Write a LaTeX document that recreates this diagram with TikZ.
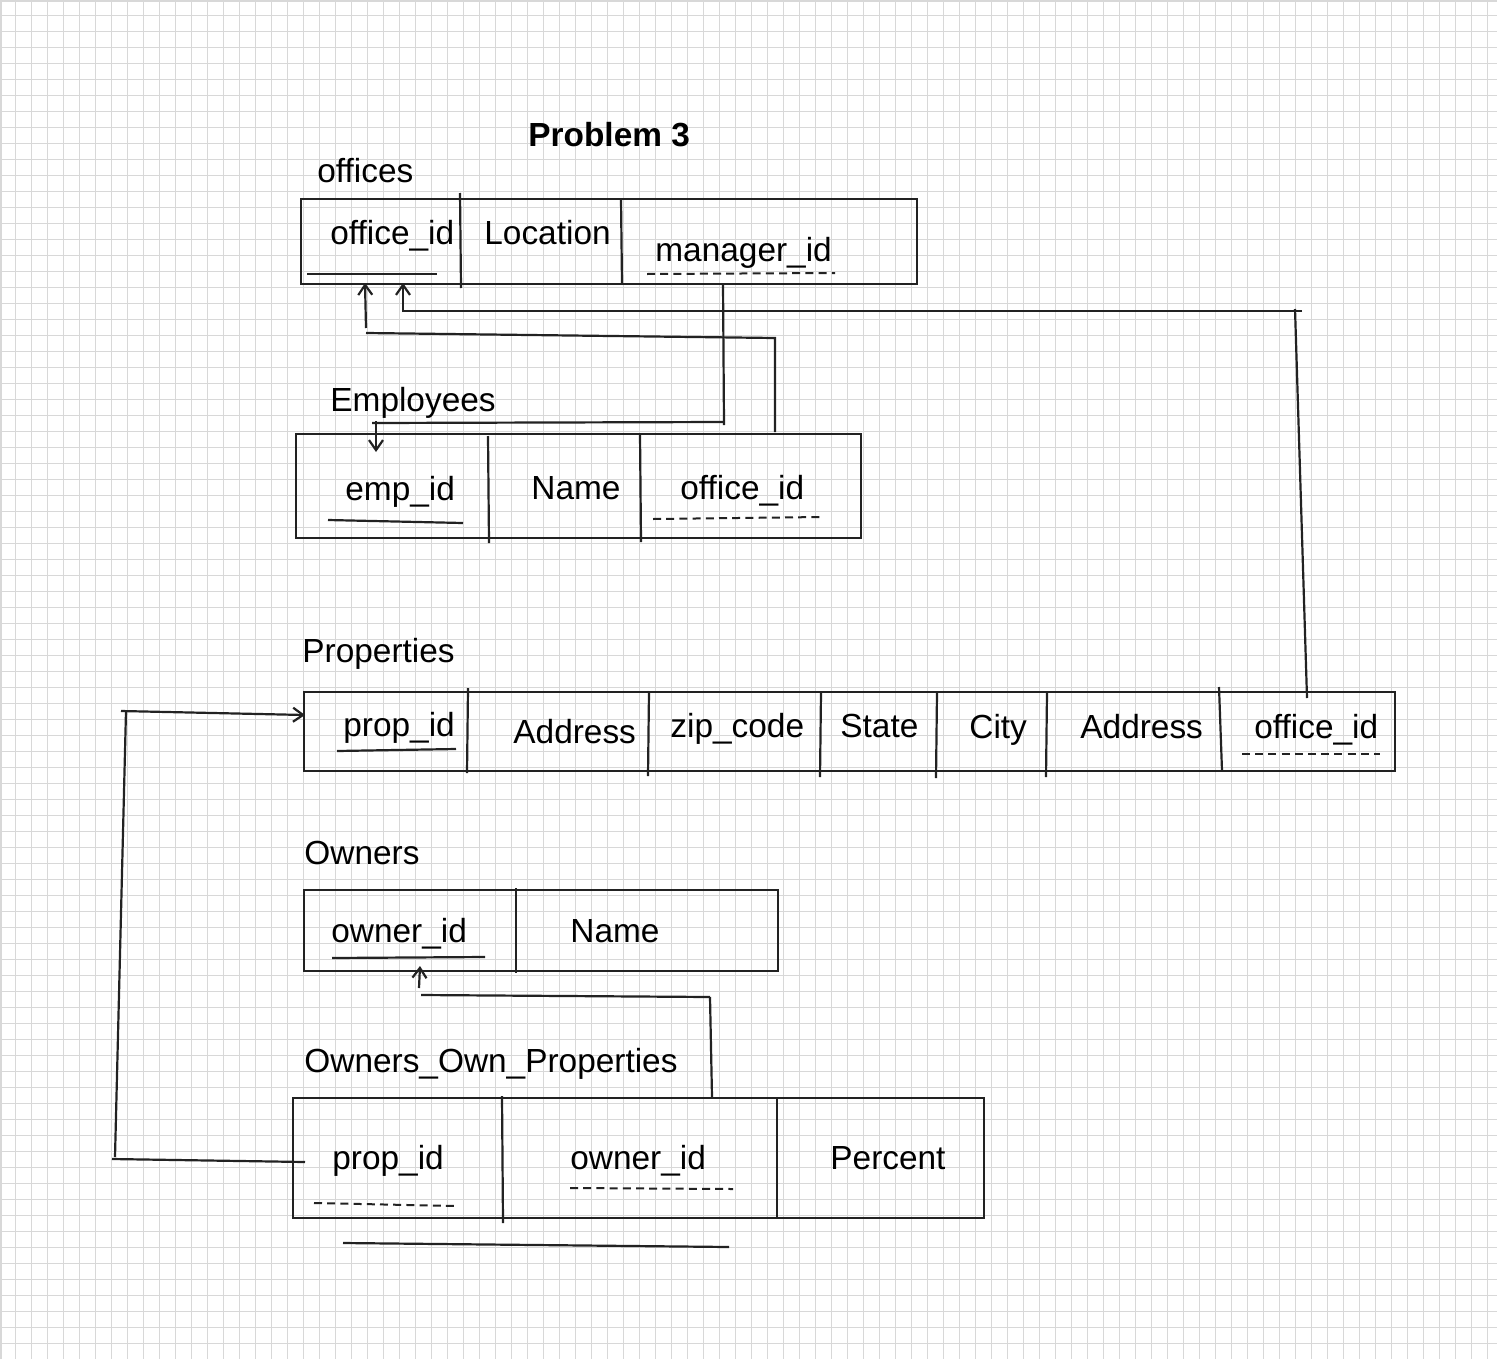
\documentclass[tikz,border=0pt]{standalone}
\usepackage{fontspec}
\setmainfont{Liberation Sans}
\usetikzlibrary{arrows.meta,fit}
\definecolor{ink}{HTML}{222222}
\definecolor{gridc}{HTML}{D8D8D8}
\tikzset{
  box/.style={draw=ink, line width=1.1pt, inner sep=0pt},
  divider/.style={draw=ink, line width=1.1pt},
  conn/.style={draw=ink, line width=1.1pt},
  arr/.style={draw=ink, line width=1.1pt, -{Straight Barb[length=5pt,width=7pt,line width=1.1pt]}},
  pk/.style={draw=ink, line width=1.1pt},
  fk/.style={draw=ink, line width=1pt, dash pattern=on 4pt off 2.6pt},
  lbl/.style={anchor=base west, inner sep=0pt, font=\fontsize{16.7}{20}\selectfont},
  ttl/.style={anchor=base west, inner sep=0pt, font=\fontsize{16.7}{20}\selectfont\bfseries}
}
\begin{document}
\begin{tikzpicture}[x=0.5pt,y=-0.5pt]
\useasboundingbox (0,0) rectangle (1497,1359);
\fill[white] (0,0) rectangle (1497,1359);
% grid
\foreach \i in {1,...,93} {\draw[gridc, line width=0.85pt] (16*\i-0.5,0) -- (16*\i-0.5,1359);}
\foreach \j in {1,...,84} {\draw[gridc, line width=0.85pt] (0,16*\j-0.5) -- (1497,16*\j-0.5);}
\draw[gridc, line width=0.85pt] (1,0) -- (1,1359);
\draw[gridc, line width=0.85pt] (0,1) -- (1497,1);

% title
\node[ttl] (title) at (528,147) {Problem 3};

% ---------- offices ----------
\node[lbl] (offlbl) at (317,182) {offices};
\node[box, fit={(301,199) (917,284)}] (offices) {};
\draw[divider] (460,193) -- (461,288);
\draw[divider] (621,199) -- (622,284);
\node[lbl] (off1) at (330,244) {office\_id};
\node[lbl] (off2) at (484,244) {Location};
\node[lbl] (off3) at (655,261) {manager\_id};
\draw[pk] (307,274) -- (437,274);
\draw[fk] (647,274) -- (835,273);

% ---------- Employees ----------
\node[lbl] (emplbl) at (330,411) {Employees};
\node[box, fit={(296,434) (861,538)}] (employees) {};
\draw[divider] (488,436) -- (489,543);
\draw[divider] (640,434) -- (641,542);
\node[lbl] (emp1) at (345,500) {emp\_id};
\node[lbl] (emp2) at (531,499) {Name};
\node[lbl] (emp3) at (680,499) {office\_id};
\draw[pk] (328,520) -- (463,523);
\draw[fk] (653,519) -- (822,517);

% ---------- Properties ----------
\node[lbl] (proplbl) at (302,662) {Properties};
\node[box, fit={(304,692) (1395,771)}] (properties) {};
\draw[divider] (468,688) -- (467,773);
\draw[divider] (649,691) -- (648,776);
\draw[divider] (821,692) -- (820,777);
\draw[divider] (937,692) -- (936,778);
\draw[divider] (1047,692) -- (1046,777);
\draw[divider] (1219,687) -- (1222,771);
\node[lbl] (p1) at (343,736) {prop\_id};
\node[lbl] (p2) at (513,743) {Address};
\node[lbl] (p3) at (670,737) {zip\_code};
\node[lbl] (p4) at (840,737) {State};
\node[lbl] (p5) at (969,738) {City};
\node[lbl] (p6) at (1080,738) {Address};
\node[lbl] (p7) at (1254,738) {office\_id};
\draw[pk] (337,751) -- (456,749);
\draw[fk] (1242,754) -- (1380,754);

% ---------- Owners ----------
\node[lbl] (ownlbl) at (304,864) {Owners};
\node[box, fit={(304,890) (778,971)}] (owners) {};
\draw[divider] (516,888) -- (516,973);
\node[lbl] (o1) at (331,942) {owner\_id};
\node[lbl] (o2) at (570,942) {Name};
\draw[pk] (332,958) -- (485,957);

% ---------- Owners_Own_Properties ----------
\node[lbl] (ooplbl) at (304,1072) {Owners\_Own\_Properties};
\node[box, fit={(293,1098) (984,1218)}] (oop) {};
\draw[divider] (502,1096) -- (503,1223);
\draw[divider] (777,1098) -- (777,1218);
\node[lbl] (q1) at (332,1169) {prop\_id};
\node[lbl] (q2) at (570,1169) {owner\_id};
\node[lbl] (q3) at (830,1169) {Percent};
\draw[fk] (314,1203) -- (455,1206);
\draw[fk] (570,1188) -- (733,1189);
\draw[pk] (343,1243) -- (729,1247);

% ---------- connectors ----------
% manager_id -> emp_id
\coordinate (mgrA) at (723,284);
\coordinate (mgrB) at (724,425);
\coordinate (mgrC) at (724,422);
\coordinate (mgrD) at (372,423);
\coordinate (mgrE) at (376,421);
\coordinate (mgrF) at (376,452);
\draw[conn] (mgrA) -- (mgrB);
\draw[conn] (mgrC) -- (mgrD);
\draw[arr] (mgrE) -- (mgrF);

% Employees.office_id -> offices.office_id
\coordinate (eoA) at (775,432);
\coordinate (eoB) at (775,338);
\coordinate (eoC) at (366,333);
\coordinate (eoD) at (366,328);
\coordinate (eoE) at (365,283);
\draw[conn] (eoA) -- (eoB) -- (eoC);
\draw[arr] (eoD) -- (eoE);

% Properties.office_id -> offices.office_id
\coordinate (poA) at (1307,698);
\coordinate (poB) at (1295,309);
\coordinate (poC) at (1302,311);
\coordinate (poD) at (402,311);
\coordinate (poE) at (403,312);
\coordinate (poF) at (403,283);
\draw[conn] (poA) -- (poB);
\draw[conn] (poC) -- (poD);
\draw[arr] (poE) -- (poF);

% OOP.prop_id -> Properties.prop_id
\coordinate (ppA) at (305,1162);
\coordinate (ppB) at (112,1159);
\coordinate (ppC) at (115,1157);
\coordinate (ppD) at (126,711);
\coordinate (ppE) at (121,711);
\coordinate (ppF) at (305,715);
\draw[conn] (ppA) -- (ppB);
\draw[conn] (ppC) -- (ppD);
\draw[arr] (ppE) -- (ppF);

% OOP.owner_id -> Owners.owner_id
\coordinate (owA) at (712,1097);
\coordinate (owB) at (710,997);
\coordinate (owC) at (710,997);
\coordinate (owD) at (421,995);
\coordinate (owE) at (419,988);
\coordinate (owF) at (420,966);
\draw[conn] (owA) -- (owB);
\draw[conn] (owC) -- (owD);
\draw[arr] (owE) -- (owF);
\end{tikzpicture}
\end{document}
